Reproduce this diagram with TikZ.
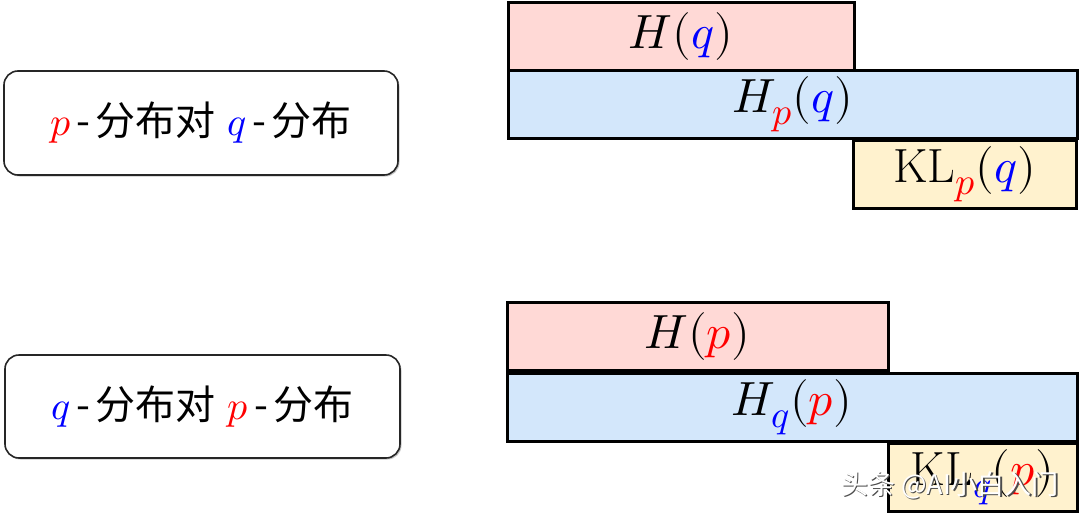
\documentclass[tikz,border=0pt]{standalone}
\usepackage{fontspec}
\usepackage{unicode-math}
\setmathfont{Latin Modern Math}
\newfontfamily\cjk{Noto Sans CJK SC}
\DeclareMathSizes{48}{48}{38}{30}
\usetikzlibrary{shadows}
\definecolor{pinkf}{RGB}{255,217,214}
\definecolor{bluef}{RGB}{211,231,251}
\definecolor{yellowf}{RGB}{255,242,206}
\definecolor{pcol}{RGB}{255,0,0}
\definecolor{qcol}{RGB}{0,0,255}
\tikzset{
  entbox/.style={draw=black, line width=3pt, inner sep=0pt, minimum height=68pt,
    font=\fontsize{48}{52}\selectfont},
  pinkbox/.style={entbox, fill=pinkf},
  bluebox/.style={entbox, fill=bluef},
  yellowbox/.style={entbox, fill=yellowf},
  labelbox/.style={draw=black!85, line width=1.6pt, rounded corners=14pt, fill=white,
    inner sep=0pt, drop shadow={shadow xshift=1.5pt, shadow yshift=-1.5pt, opacity=0.45},
    font=\cjk\fontsize{40}{44}\selectfont},
  wmark/.style={font=\cjk\fontsize{27}{30}\selectfont, text=white}
}
\newcommand{\pp}{{\color{pcol}p}}
\newcommand{\qq}{{\color{qcol}q}}
\newcommand{\hy}{\kern6pt-\kern5pt}
\begin{document}
\begin{tikzpicture}[x=1pt,y=-1pt]
\useasboundingbox (0,0) rectangle (1080,512);
% left label boxes
\node[labelbox, minimum width=394pt, minimum height=104pt] (lab1) at (201,123)
  {$\pp$\hy 分布对\kern12pt$\qq$\hy 分布};
\node[labelbox, minimum width=395pt, minimum height=103pt] (lab2) at (202.5,406.5)
  {$\qq$\hy 分布对\kern12pt$\pp$\hy 分布};
% top group
\node[pinkbox, minimum width=346pt] (hq) at (681,36) {$H(\qq)$};
\node[bluebox, minimum width=569pt] (hpq) at (792.5,104) {$H_{\pp}(\qq)$};
\node[yellowbox, minimum width=223pt] (klpq) at (964.5,174) {$\mathrm{KL}_{\pp}(\qq)$};
% bottom group
\node[pinkbox, minimum width=381pt] (hp) at (697.5,336) {$H(\pp)$};
\node[bluebox, minimum width=570pt] (hqp) at (792,407) {$H_{\qq}(\pp)$};
\node[yellowbox, minimum width=189pt] (klqp) at (982.5,477) {$\mathrm{KL}_{\qq}(\pp)$};
% watermark
\node[wmark, text=black!70] (wms) at (951.2,486.8) {头条 @AI小白入门};
\node[wmark] (wm) at (950,485.5) {头条 @AI小白入门};
\end{tikzpicture}
\end{document}
